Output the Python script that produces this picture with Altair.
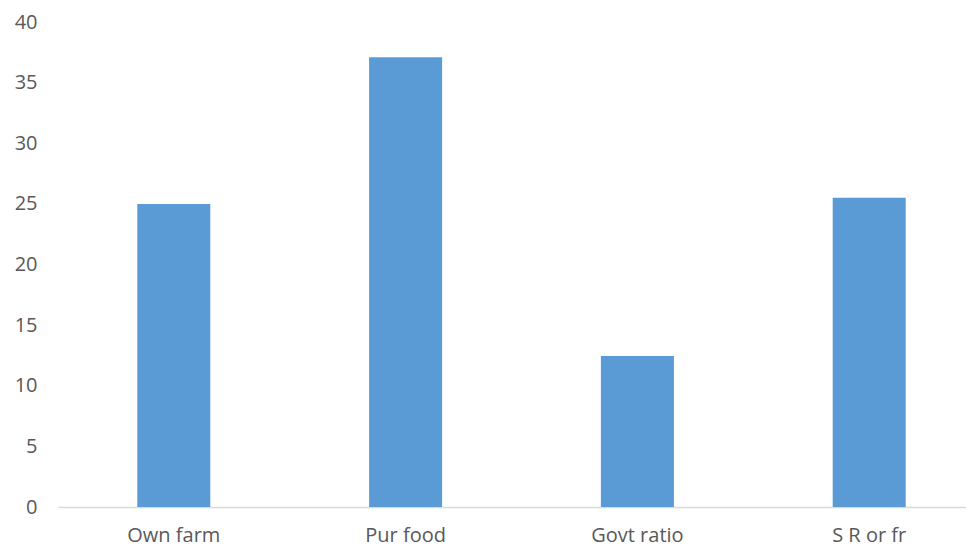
import altair as alt
import pandas as pd

categories = ["Own farm", "Pur food", "Govt ratio", "S R or fr"]
values = [25.0, 37.1, 12.45, 25.5]

df = pd.DataFrame({"cat": categories, "val": values})

chart = alt.Chart(df).mark_bar(color="#5B9BD5").encode(
    x=alt.X("cat:N", sort=categories, title=None,
            scale=alt.Scale(range=[0, 927], paddingInner=0.685, paddingOuter=0.342),
            axis=alt.Axis(labelAngle=0, ticks=False, domainColor="#D9D9D9", domainWidth=1.5,
                          labelColor="#595959", labelFontSize=20, labelFont="Open Sans",
                          labelPadding=18)),
    y=alt.Y("val:Q", title=None,
            scale=alt.Scale(domain=[0, 40], nice=False),
            axis=alt.Axis(values=[0, 5, 10, 15, 20, 25, 30, 35, 40], grid=False, domain=False,
                          ticks=False, labelColor="#595959", labelFontSize=20,
                          labelFont="Open Sans", labelPadding=21)),
).properties(
    width=908, height=485,
    autosize=alt.AutoSizeParams(type="none"),
    padding={"left": 50, "top": 14, "right": 0, "bottom": 43},
).configure_view(stroke=None)

chart.save("out.html", embed_options={"renderer": "svg", "actions": False})
